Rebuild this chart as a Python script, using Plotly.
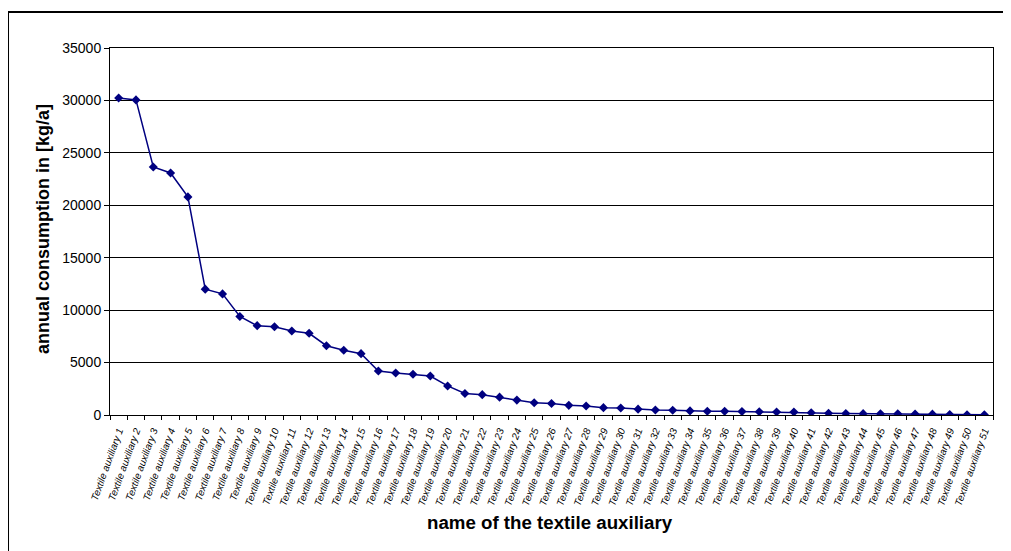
import plotly.graph_objects as go

categories = [f"Textile auxiliary {i}" for i in range(1, 52)]
consumption = [30230, 30050, 23650, 23080, 20800, 12000, 11550, 9400, 8520, 8420,
               8010, 7790, 6610, 6170, 5850, 4200, 4010, 3880, 3720, 2770,
               2050, 1940, 1700, 1420, 1170, 1100, 920, 860, 700, 670,
               560, 480, 450, 390, 360, 350, 330, 310, 290, 280,
               220, 170, 140, 130, 120, 110, 90, 80, 40, 30, 20]
y_ticks = [0, 5000, 10000, 15000, 20000, 25000, 30000, 35000]

FONT = "Arial, Liberation Sans, sans-serif"

fig = go.Figure()
fig.add_trace(go.Scatter(
    x=categories, y=consumption, mode="lines+markers",
    line=dict(color="#000080", width=1.5),
    marker=dict(symbol="diamond", size=7, color="#000080"),
    showlegend=False,
))

fig.update_layout(
    width=1003, height=543,
    margin=dict(l=102, r=18, t=40, b=136),
    paper_bgcolor="white", plot_bgcolor="white",
    font=dict(family=FONT, color="black"),
    xaxis=dict(
        type="category", range=[-0.5, 50.5],
        showgrid=False, tickson="boundaries",
        ticks="outside", ticklen=4, tickcolor="black",
        showline=True, linecolor="black", linewidth=1, mirror=True,
        tickangle=-70, ticklabelstandoff=5,
        tickfont=dict(family=FONT, size=10, style="italic", color="black"),
    ),
    yaxis=dict(
        range=[0, 35000], tickvals=y_ticks,
        ticktext=[str(v) for v in y_ticks],
        showgrid=True, gridcolor="black", gridwidth=1,
        ticks="outside", ticklen=5, tickcolor="black",
        showline=True, linecolor="black", linewidth=1, mirror=True,
        tickfont=dict(family=FONT, size=14, color="black"),
        zeroline=False,
    ),
    annotations=[
        dict(text="<b>annual consumption in [kg/a]</b>", xref="paper", yref="paper",
             x=-0.0759, y=0.507, xanchor="center", yanchor="middle",
             textangle=-90, showarrow=False,
             font=dict(family=FONT, size=18, color="black")),
        dict(text="<b>name of the textile auxiliary</b>", xref="paper", yref="paper",
             x=0.498, y=-0.2916, xanchor="center", yanchor="middle",
             showarrow=False,
             font=dict(family=FONT, size=18.7, color="black")),
    ],
    shapes=[
        dict(type="line", xref="paper", yref="paper",
             x0=-0.1155, x1=-0.1155, y0=-0.5, y1=1.0981,
             line=dict(color="black", width=2), layer="below"),
        dict(type="line", xref="paper", yref="paper",
             x0=-0.1155, x1=1.2, y0=1.0981, y1=1.0981,
             line=dict(color="black", width=2), layer="below"),
    ],
)

fig.write_html("out.html")
